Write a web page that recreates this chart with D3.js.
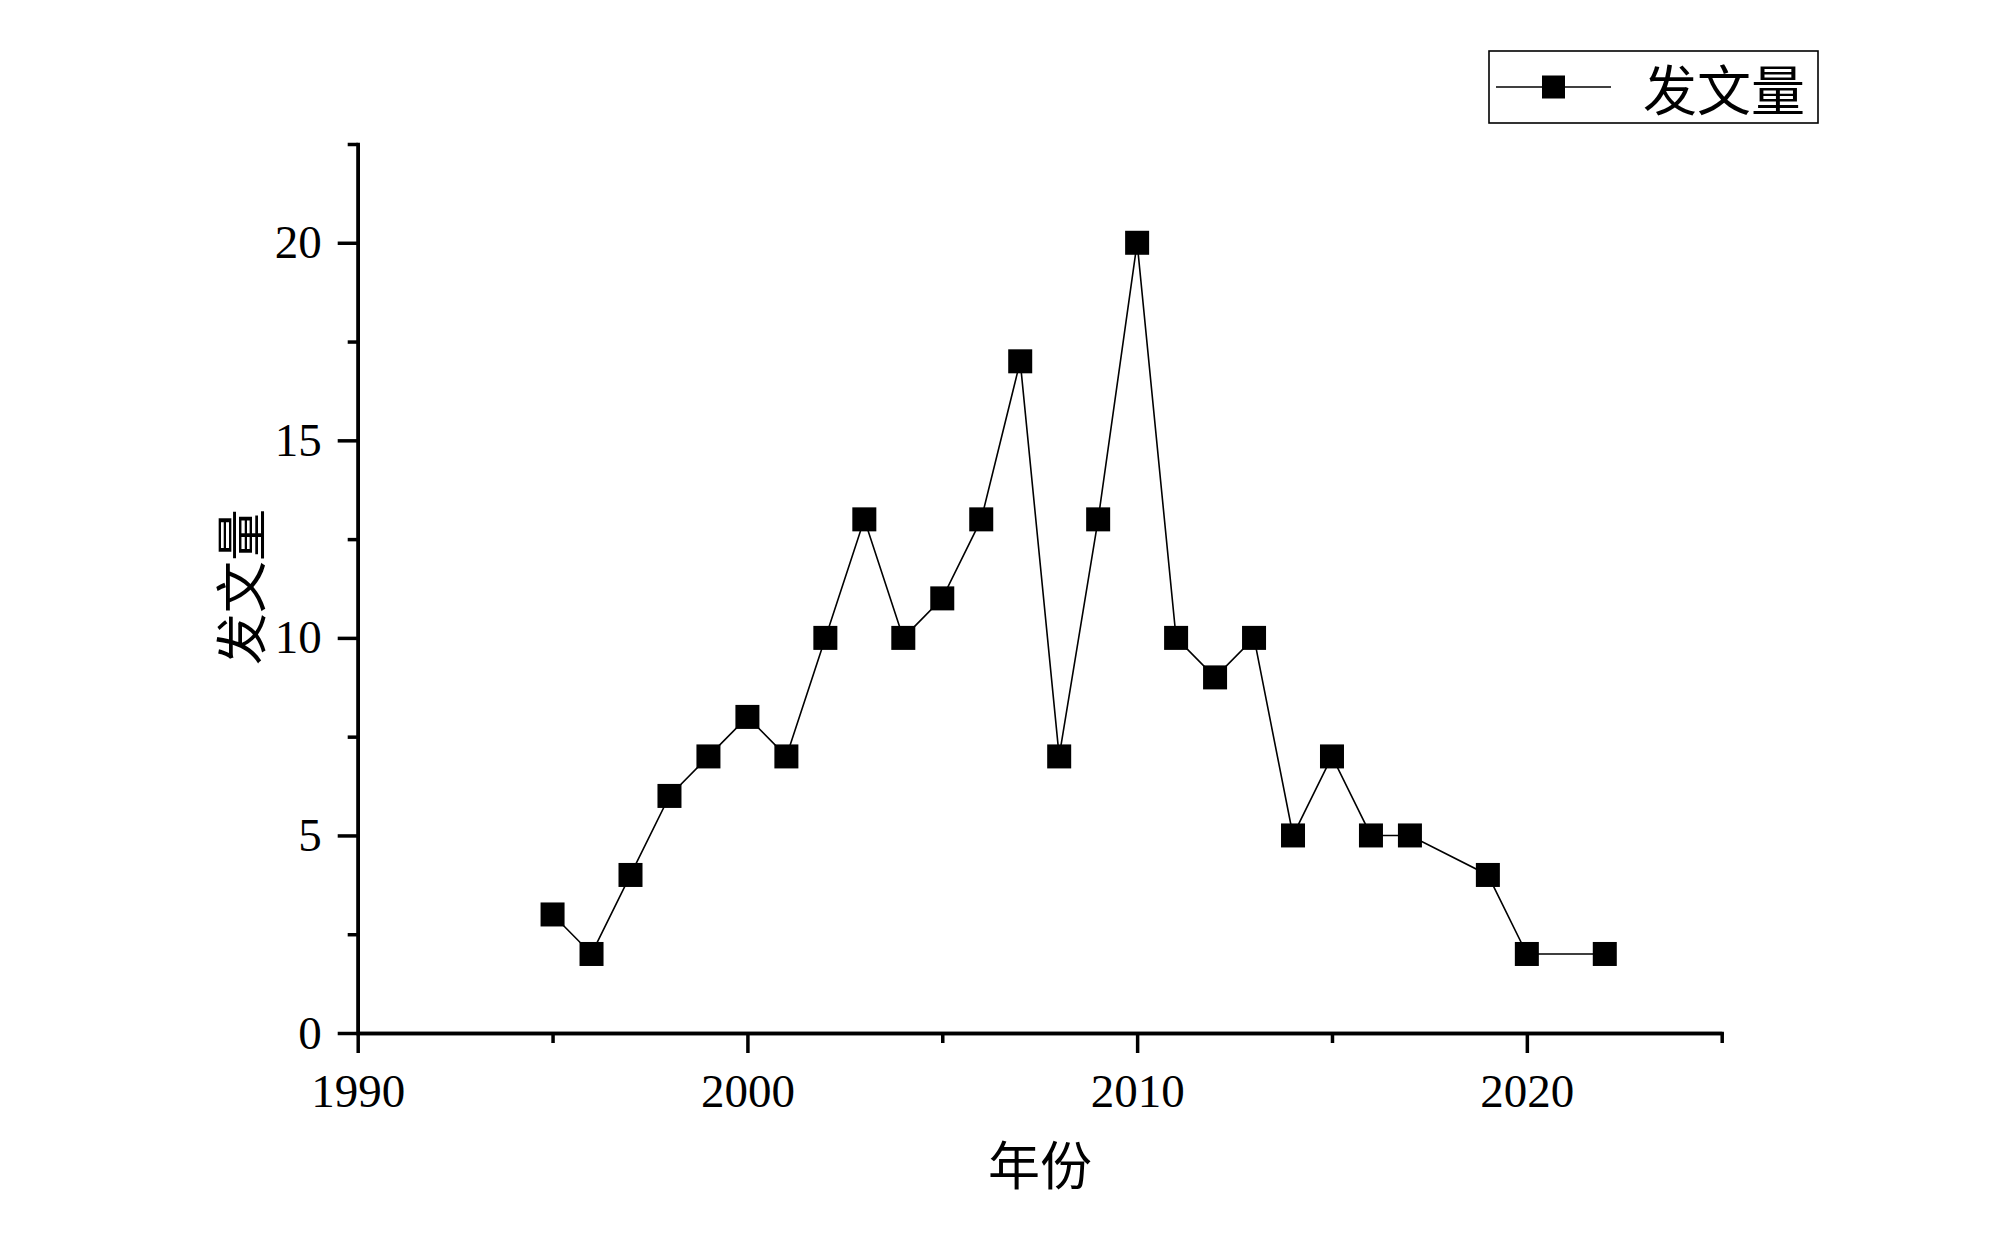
<!DOCTYPE html>
<html>
<head>
<meta charset="utf-8">
<script src="https://cdn.jsdelivr.net/npm/d3@7"></script>
<style>
  body { margin: 0; background: #fff; }
  text { font-family: "Liberation Serif", "Noto Sans CJK SC", serif; fill: #000; }
</style>
</head>
<body>
<div id="vis"></div>
<script>
// data
var years = [1995, 1996, 1997, 1998, 1999, 2000, 2001, 2002, 2003, 2004, 2005, 2006,
             2007, 2008, 2009, 2010, 2011, 2012, 2013, 2014, 2015, 2016, 2017, 2019, 2020, 2022];
var counts = [3, 2, 4, 6, 7, 8, 7, 10, 13, 10, 11, 13,
              17, 7, 13, 20, 10, 9, 10, 5, 7, 5, 5, 4, 2, 2];
var xMajor = [1990, 2000, 2010, 2020];
var xMinor = [1995, 2005, 2015, 2025];
var yMajor = [0, 5, 10, 15, 20];
var yMinor = [2.5, 7.5, 12.5, 17.5, 22.5];
var seriesName = "发文量";
var xTitle = "年份";
var yTitle = "发文量";

var width = 2000, height = 1239;

var svg = d3.select("#vis")
    .append("svg")
    .attr("width", width)
    .attr("height", height);

var x = d3.scaleLinear()
    .domain([1990, 2025])
    .range([357.7, 1721.7]);

var y = d3.scaleLinear()
    .domain([0, 22.5])
    .range([1033, 144]);

var data = years.map(function(d, i) { return {year: d, count: counts[i]}; });

////////// axes //////////

function styleAxis(g) {
  g.selectAll("path, line")
    .attr("stroke", "#000")
    .attr("stroke-width", 3.5);
  g.selectAll("text")
    .attr("font-family", "'Liberation Serif', serif")
    .attr("font-size", 47)
    .attr("fill", "#000");
}

// minor ticks first so the major ones sit on top
svg.append("g")
    .attr("transform", "translate(0," + y(0) + ")")
    .call(d3.axisBottom(x).tickValues(xMinor).tickSize(10).tickSizeOuter(0).tickFormat(""))
    .call(styleAxis);

svg.append("g")
    .attr("transform", "translate(" + x(1990) + ",0)")
    .call(d3.axisLeft(y).tickValues(yMinor).tickSize(10).tickSizeOuter(0).tickFormat(""))
    .call(styleAxis);

var xAxis = svg.append("g")
    .attr("transform", "translate(0," + y(0) + ")")
    .call(d3.axisBottom(x).tickValues(xMajor).tickSize(20).tickSizeOuter(0).tickPadding(21).tickFormat(d3.format("d")))
    .call(styleAxis);

var yAxis = svg.append("g")
    .attr("transform", "translate(" + x(1990) + ",0)")
    .call(d3.axisLeft(y).tickValues(yMajor).tickSize(20).tickSizeOuter(0).tickPadding(16).tickFormat(d3.format("d")))
    .call(styleAxis);

xAxis.select(".domain").attr("stroke-linecap", "square");
yAxis.select(".domain").attr("stroke-linecap", "square");

// axis titles
svg.append("text")
    .attr("x", 1040)
    .attr("y", 1162)
    .attr("text-anchor", "middle")
    .attr("dominant-baseline", "central")
    .attr("font-size", 52)
    .style("font-family", "'Noto Sans CJK SC', sans-serif")
    .text(xTitle);

svg.append("text")
    .attr("transform", "translate(238,587) rotate(-90)")
    .attr("text-anchor", "middle")
    .attr("dominant-baseline", "central")
    .attr("font-size", 52)
    .style("font-family", "'Noto Sans CJK SC', sans-serif")
    .text(yTitle);

////////// plot //////////

var line = d3.line()
    .x(function(d) { return x(d.year); })
    .y(function(d) { return y(d.count); });

svg.append("path")
    .datum(data)
    .attr("fill", "none")
    .attr("stroke", "#000")
    .attr("stroke-width", 1.6)
    .attr("d", line);

var ms = 24;
svg.selectAll(".marker")
    .data(data)
    .enter()
    .append("rect")
    .attr("class", "marker")
    .attr("x", function(d) { return x(d.year) - ms / 2; })
    .attr("y", function(d) { return y(d.count) - ms / 2; })
    .attr("width", ms)
    .attr("height", ms)
    .attr("fill", "#000");

////////// legend //////////

var legend = svg.append("g").attr("class", "legend");

legend.append("rect")
    .attr("x", 1489)
    .attr("y", 51)
    .attr("width", 329)
    .attr("height", 72)
    .attr("fill", "none")
    .attr("stroke", "#000")
    .attr("stroke-width", 1.6);

legend.append("line")
    .attr("x1", 1496)
    .attr("x2", 1611)
    .attr("y1", 87)
    .attr("y2", 87)
    .attr("stroke", "#000")
    .attr("stroke-width", 1.6);

legend.append("rect")
    .attr("x", 1553.5 - 11.5)
    .attr("y", 87 - 11.5)
    .attr("width", 23)
    .attr("height", 23)
    .attr("fill", "#000");

legend.append("text")
    .attr("x", 1643)
    .attr("y", 87)
    .attr("dominant-baseline", "central")
    .attr("font-size", 54)
    .style("font-family", "'Noto Sans CJK SC', sans-serif")
    .text(seriesName);
</script>
</body>
</html>
